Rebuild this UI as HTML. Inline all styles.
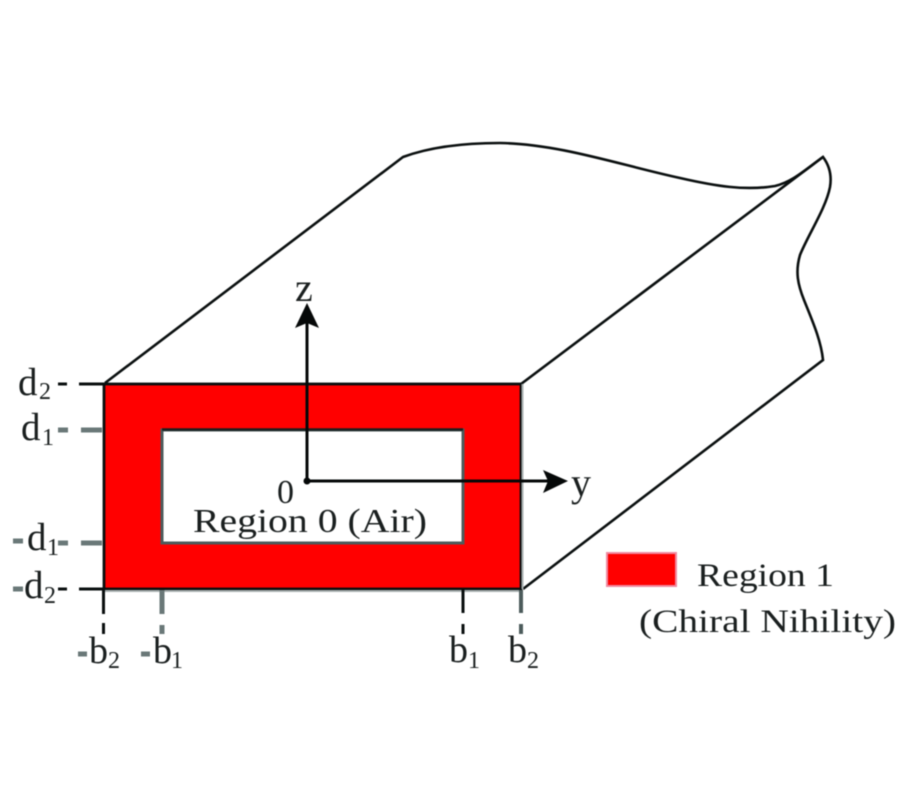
<!DOCTYPE html>
<html>
<head>
<meta charset="utf-8">
<style>
html,body{margin:0;padding:0;background:#fff;width:900px;height:800px;overflow:hidden}
svg{display:block;filter:blur(0.5px)}
text{font-family:"Liberation Serif",serif;fill:#1a1f1f}
</style>
</head>
<body>
<svg width="900" height="800" viewBox="0 0 900 800" xmlns="http://www.w3.org/2000/svg">
<!-- 3D outline -->
<g fill="none" stroke="#0a0f0f" stroke-width="2.6">
<path d="M105 383 L403 157 C430 147 465 143 500 143 C560 144 620 165 680 178 C715 186 745 191 775 186 C792 182 805 170 823 157"/>
<path d="M521 384 L823 157 C829 165 832 175 830 187 C826 208 808 235 800 255 C795 272 798 285 804 300 C812 320 821 340 823 360 L523 589"/>
</g>
<!-- red frame -->
<path fill-rule="evenodd" d="M104 384H521V589H104Z M162 430V543H463V430Z" fill="#ff0000"/>
<rect x="104" y="384" width="417" height="205" fill="none" stroke="#0a0f0f" stroke-width="2.800"/>
<rect x="162" y="430" width="301" height="113" fill="none" stroke="#4d5c5c" stroke-width="3"/>
<line x1="162" y1="429.500" x2="463" y2="429.500" stroke="#1a2020" stroke-width="2.500"/>
<line x1="522.500" y1="384" x2="522.500" y2="589" stroke="#a8b0b0" stroke-width="2"/>
<line x1="104" y1="591" x2="521" y2="591" stroke="#a8b0b0" stroke-width="2"/>
<!-- left ticks -->
<g stroke-width="5" fill="none">
<path d="M58 384H67M79 384H104" stroke="#0a0f0f" stroke-width="3"/>
<path d="M58 430H68M81 430H102" stroke="#6a7878"/>
<path d="M58 543H68M81 543H102" stroke="#6a7878"/>
<path d="M58 589H67M79 589H104" stroke="#0a0f0f" stroke-width="3"/>
<path d="M13 541H23M13 589H23" stroke="#6a7878"/>
</g>
<!-- bottom ticks -->
<g fill="none">
<path d="M103.500 590V614M103.500 623V634" stroke="#0a0f0f" stroke-width="3"/>
<path d="M162 590V614M162 625V634" stroke="#6a7878" stroke-width="5"/>
<path d="M463 590V613M463 624V634" stroke="#0a0f0f" stroke-width="3"/>
<path d="M521 590V613M521 624V634" stroke="#4d5c5c" stroke-width="4"/>
<path d="M78 654H87M141 654H150" stroke="#6a7878" stroke-width="5"/>
</g>
<!-- axes -->
<path d="M307 481V320" stroke="#050808" stroke-width="3" fill="none"/>
<path d="M307 481H548" stroke="#050808" stroke-width="3" fill="none"/>
<path d="M307 303L295 328L307 323L319 328Z" fill="#050808"/>
<path d="M568 481L543 470L548 481L543 493Z" fill="#050808"/>
<circle cx="307" cy="481" r="3.500" fill="#050808"/>
<!-- labels -->
<text x="295" y="301" font-size="40">z</text>
<text x="571" y="496" font-size="40">y</text>
<text x="277" y="503" font-size="34">0</text>
<text x="193" y="532" font-size="34" textLength="234" lengthAdjust="spacingAndGlyphs">Region 0 (Air)</text>
<text x="18" y="395" font-size="39">d</text><text x="39" y="399" font-size="24">2</text>
<text x="21" y="440" font-size="39">d</text><text x="42" y="445" font-size="24">1</text>
<text x="27" y="550" font-size="39">d</text><text x="47" y="555" font-size="24">1</text>
<text x="24" y="598" font-size="39">d</text><text x="44" y="603" font-size="24">2</text>
<text x="89" y="663" font-size="38">b</text><text x="108" y="668" font-size="24">2</text>
<text x="153" y="663" font-size="38">b</text><text x="171" y="668" font-size="24">1</text>
<text x="449" y="662" font-size="38">b</text><text x="468" y="668" font-size="24">1</text>
<text x="508" y="662" font-size="38">b</text><text x="527" y="668" font-size="24">2</text>
<!-- legend -->
<rect x="607" y="553" width="69" height="33" fill="#ff0000" stroke="#f08aa0" stroke-width="2"/>
<text x="697" y="586" font-size="33" textLength="137" lengthAdjust="spacingAndGlyphs">Region 1</text>
<text x="639" y="632" font-size="33" textLength="257" lengthAdjust="spacingAndGlyphs">(Chiral Nihility)</text>
</svg>
</body>
</html>
